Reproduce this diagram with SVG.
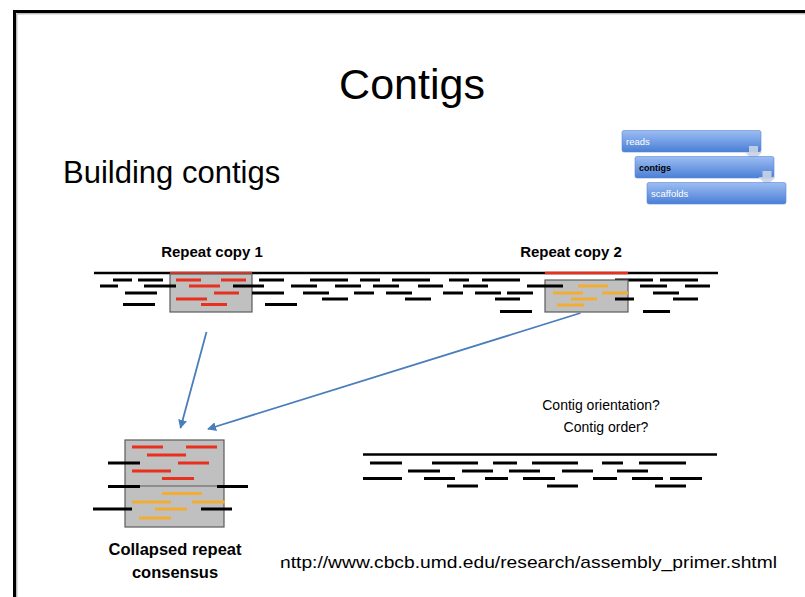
<svg xmlns="http://www.w3.org/2000/svg" width="805" height="597" viewBox="0 0 805 597">
  <style>
    text { font-family: "Liberation Sans", Arial, sans-serif; fill: #000; }
    .bold { font-weight: bold; }
    .rd { stroke: #000; stroke-width: 3; }
    .rr { stroke: #e8301e; stroke-width: 3; }
    .ro { stroke: #f2ae34; stroke-width: 3; }
    .genome { stroke: #000; stroke-width: 2.5; }
    .repbox { fill: #c0c0c0; stroke: #5a5a5a; stroke-width: 1.2; }
    .conn { stroke: #4a7ebb; stroke-width: 1.8; fill: none; marker-end: url(#arrow); }
    .step { stroke: #5b87d6; stroke-width: 0.6; }
    .steptxt { font-family: "Liberation Sans", Arial, sans-serif; font-size: 9.5px; fill: #fff; }
  </style>
  <defs>
    <marker id="arrow" viewBox="0 0 10 10" refX="9" refY="5" markerWidth="5" markerHeight="5" orient="auto-start-reverse" markerUnits="strokeWidth">
      <path d="M0,0 L10,5 L0,10 z" fill="#4a7ebb"/>
    </marker>
    <linearGradient id="stepFill" x1="0" y1="0" x2="0" y2="1">
      <stop offset="0" stop-color="#9dbdf2"/>
      <stop offset="1" stop-color="#4a7fd6"/>
    </linearGradient>
    <!-- the caption box above hides the upper left corner of the link -->
    <clipPath id="urlClip">
      <path d="M284,540 H805 V597 H270 V560 H284 Z"/>
    </clipPath>
  </defs>

  <rect x="0" y="0" width="805" height="597" fill="#fff"/>

  <!-- slide frame -->
  <g id="frame" fill="none">
    <path d="M14.5,597 V11.5 H805" stroke="#000" stroke-width="3"/>
    <path d="M16.8,597 V13.8 H805" stroke="#888" stroke-width="0.8"/>
  </g>

  <g id="title">
    <text x="412" y="99" font-size="43" text-anchor="middle">Contigs</text>
  </g>
  <g id="subtitle">
    <text x="63" y="183" font-size="31">Building contigs</text>
  </g>

  <!-- pipeline steps -->
  <g id="pipeline">
    <rect class="step" x="622" y="130.5" width="139" height="21.5" rx="2" fill="url(#stepFill)"/>
    <text class="steptxt" x="626" y="145">reads</text>
    <path d="M749,146 h9 v6 h4 l-8.5,9 l-8.5,-9 h4 z" fill="#c9d3e4" opacity="0.9"/>
    <rect class="step" x="635" y="156.5" width="139" height="21.5" rx="2" fill="url(#stepFill)"/>
    <text x="639" y="171" font-size="9" class="bold">contigs</text>
    <path d="M762.5,171 h9 v6 h4 l-8.5,9 l-8.5,-9 h4 z" fill="#c9d3e4" opacity="0.9"/>
    <rect class="step" x="647" y="182.5" width="139" height="21.5" rx="2" fill="url(#stepFill)"/>
    <text class="steptxt" x="651" y="197">scaffolds</text>
  </g>

  <g id="labels">
    <text x="212" y="257" font-size="15" class="bold" text-anchor="middle">Repeat copy 1</text>
    <text x="571" y="257" font-size="15" class="bold" text-anchor="middle">Repeat copy 2</text>
  </g>

  <!-- genome with two repeat copies -->
  <g id="genome">
    <line class="genome" x1="94" y1="273" x2="718" y2="273"/>
    <line x1="170" y1="273" x2="252" y2="273" stroke="#e8301e" stroke-width="2.5"/>
    <line x1="545" y1="273" x2="628" y2="273" stroke="#e8301e" stroke-width="2.5"/>
  </g>

  <g id="repeat1">
    <rect class="repbox" x="170" y="274" width="82" height="38"/>
    <line class="rd" x1="113" y1="280" x2="132" y2="280"/>
    <line class="rd" x1="138" y1="280" x2="163" y2="280"/>
    <line class="rr" x1="176" y1="280" x2="201" y2="280"/>
    <line class="rr" x1="221" y1="280" x2="246" y2="280"/>
    <line class="rd" x1="100" y1="286" x2="118" y2="286"/>
    <line class="rd" x1="144" y1="286" x2="176" y2="286"/>
    <line class="rr" x1="189" y1="286" x2="220" y2="286"/>
    <line class="rd" x1="233" y1="286" x2="264" y2="286"/>
    <line class="rd" x1="125" y1="293" x2="157" y2="293"/>
    <line class="rr" x1="214" y1="293" x2="239" y2="293"/>
    <line class="rr" x1="176" y1="299" x2="207" y2="299"/>
    <line class="rd" x1="123" y1="304.5" x2="155" y2="304.5"/>
    <line class="rr" x1="201" y1="304.5" x2="227" y2="304.5"/>
  </g>

  <!-- reads between the repeats -->
  <g id="reads">
    <line class="rd" x1="259" y1="280" x2="284" y2="280"/>
    <line class="rd" x1="310" y1="280" x2="348" y2="280"/>
    <line class="rd" x1="360" y1="280" x2="380" y2="280"/>
    <line class="rd" x1="392" y1="280" x2="430" y2="280"/>
    <line class="rd" x1="449" y1="280" x2="469" y2="280"/>
    <line class="rd" x1="482" y1="280" x2="520" y2="280"/>
    <line class="rd" x1="291" y1="286" x2="317" y2="286"/>
    <line class="rd" x1="335" y1="286" x2="361" y2="286"/>
    <line class="rd" x1="373" y1="286" x2="399" y2="286"/>
    <line class="rd" x1="418" y1="286" x2="443" y2="286"/>
    <line class="rd" x1="463" y1="286" x2="488" y2="286"/>
    <line class="rd" x1="252" y1="293" x2="284" y2="293"/>
    <line class="rd" x1="303" y1="293" x2="329" y2="293"/>
    <line class="rd" x1="354" y1="293" x2="374" y2="293"/>
    <line class="rd" x1="386" y1="293" x2="412" y2="293"/>
    <line class="rd" x1="443" y1="293" x2="463" y2="293"/>
    <line class="rd" x1="475" y1="293" x2="501" y2="293"/>
    <line class="rd" x1="507" y1="293" x2="533" y2="293"/>
    <line class="rd" x1="322" y1="299" x2="348" y2="299"/>
    <line class="rd" x1="405" y1="299" x2="431" y2="299"/>
    <line class="rd" x1="495" y1="299" x2="520" y2="299"/>
    <line class="rd" x1="265" y1="304.5" x2="297" y2="304.5"/>
    <line class="rd" x1="500" y1="311.5" x2="532" y2="311.5" stroke-width="3.5"/>
    <line class="rd" x1="615" y1="280" x2="653" y2="280"/>
    <line class="rd" x1="660" y1="280" x2="698" y2="280"/>
    <line class="rd" x1="640" y1="286" x2="667" y2="286"/>
    <line class="rd" x1="685" y1="286" x2="710" y2="286"/>
    <line class="rd" x1="653" y1="293" x2="679" y2="293"/>
    <line class="rd" x1="673" y1="299" x2="698" y2="299"/>
    <line class="rd" x1="643" y1="311.5" x2="670" y2="311.5" stroke-width="3.5"/>
  </g>

  <g id="repeat2">
    <rect class="repbox" x="545" y="280" width="83" height="32"/>
    <line class="rd" x1="527" y1="286" x2="563" y2="286"/>
    <line class="ro" x1="578" y1="286" x2="608" y2="286"/>
    <line class="ro" x1="553" y1="293" x2="583" y2="293"/>
    <line class="ro" x1="602" y1="293" x2="628" y2="293"/>
    <line class="ro" x1="571" y1="299" x2="597" y2="299"/>
    <line class="rd" x1="615" y1="299" x2="634" y2="299"/>
    <line class="ro" x1="557" y1="305" x2="584" y2="305"/>
  </g>

  <g id="connectors">
    <line class="conn" x1="206.5" y1="332" x2="180.5" y2="428"/>
    <line class="conn" x1="580.5" y1="313" x2="208" y2="429"/>
  </g>

  <!-- collapsed repeat -->
  <g id="collapsed">
    <rect class="repbox" x="125" y="440" width="99" height="87"/>
    <line x1="125" y1="486" x2="224" y2="486" stroke="#5a5a5a" stroke-width="1"/>
    <line class="rr" x1="132" y1="447" x2="163" y2="447"/>
    <line class="rr" x1="186" y1="447" x2="217" y2="447"/>
    <line class="rr" x1="147" y1="455" x2="186" y2="455"/>
    <line class="rr" x1="178" y1="463" x2="209" y2="463"/>
    <line class="rr" x1="132" y1="471" x2="171" y2="471"/>
    <line class="rr" x1="162" y1="478.5" x2="194" y2="478.5"/>
    <line class="rd" x1="108" y1="463" x2="140" y2="463"/>
    <line class="rd" x1="108" y1="486.5" x2="140" y2="486.5"/>
    <line class="rd" x1="217" y1="486.5" x2="248" y2="486.5"/>
    <line class="ro" x1="162" y1="493.5" x2="202" y2="493.5"/>
    <line class="ro" x1="132" y1="502" x2="171" y2="502"/>
    <line class="ro" x1="192" y1="502" x2="225" y2="502"/>
    <line class="ro" x1="155" y1="509" x2="187" y2="509"/>
    <line class="rd" x1="93" y1="509" x2="132" y2="509"/>
    <line class="rd" x1="201" y1="509" x2="232" y2="509"/>
    <line class="ro" x1="139" y1="518" x2="171" y2="518"/>
    <text x="175" y="555" font-size="16.5" class="bold" text-anchor="middle">Collapsed repeat</text>
    <text x="175" y="578" font-size="16.5" class="bold" text-anchor="middle">consensus</text>
  </g>

  <!-- contig without the repeat -->
  <g id="contig">
    <line class="genome" x1="363" y1="454.5" x2="717" y2="454.5"/>
    <line class="rd" x1="370" y1="463" x2="402" y2="463"/>
    <line class="rd" x1="432" y1="463" x2="478" y2="463"/>
    <line class="rd" x1="493" y1="463" x2="517" y2="463"/>
    <line class="rd" x1="532" y1="463" x2="578" y2="463"/>
    <line class="rd" x1="602" y1="463" x2="623" y2="463"/>
    <line class="rd" x1="639" y1="463" x2="686" y2="463"/>
    <line class="rd" x1="408" y1="471" x2="440" y2="471"/>
    <line class="rd" x1="462" y1="471" x2="493" y2="471"/>
    <line class="rd" x1="509" y1="471" x2="540" y2="471"/>
    <line class="rd" x1="562" y1="471" x2="593" y2="471"/>
    <line class="rd" x1="617" y1="471" x2="648" y2="471"/>
    <line class="rd" x1="363" y1="478.5" x2="402" y2="478.5"/>
    <line class="rd" x1="424" y1="478.5" x2="455" y2="478.5"/>
    <line class="rd" x1="485" y1="478.5" x2="508" y2="478.5"/>
    <line class="rd" x1="523" y1="478.5" x2="555" y2="478.5"/>
    <line class="rd" x1="593" y1="478.5" x2="617" y2="478.5"/>
    <line class="rd" x1="632" y1="478.5" x2="663" y2="478.5"/>
    <line class="rd" x1="670" y1="478.5" x2="702" y2="478.5"/>
    <line class="rd" x1="447" y1="486" x2="478" y2="486"/>
    <line class="rd" x1="547" y1="486" x2="578" y2="486"/>
    <line class="rd" x1="655" y1="486" x2="686" y2="486"/>
    <text x="601" y="410" font-size="14" text-anchor="middle">Contig orientation?</text>
    <text x="606" y="432" font-size="14" text-anchor="middle">Contig order?</text>
  </g>

  <g id="source">
    <text x="280" y="568" font-size="17" textLength="497" lengthAdjust="spacingAndGlyphs" clip-path="url(#urlClip)">http://www.cbcb.umd.edu/research/assembly_primer.shtml</text>
  </g>
</svg>
